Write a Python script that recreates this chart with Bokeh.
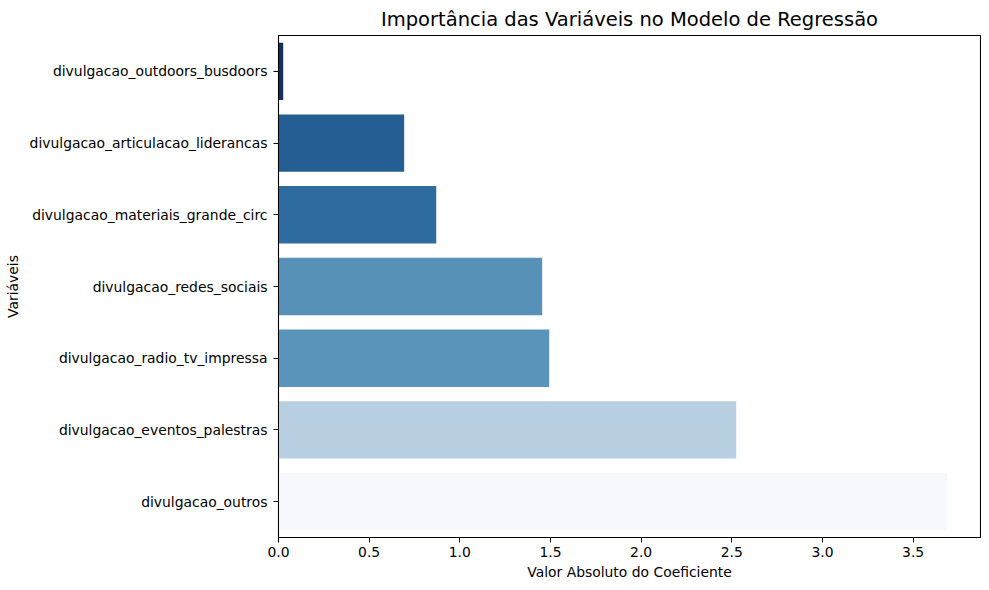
from bokeh.plotting import figure
from bokeh.models import ColumnDataSource, FactorRange, Range1d
from bokeh.embed import file_html
from bokeh.resources import INLINE

# Data (top-to-bottom order as shown)
variables = [
    "divulgacao_outdoors_busdoors",
    "divulgacao_articulacao_liderancas",
    "divulgacao_materiais_grande_circ",
    "divulgacao_redes_sociais",
    "divulgacao_radio_tv_impressa",
    "divulgacao_eventos_palestras",
    "divulgacao_outros",
]
abs_coef = [0.026, 0.693, 0.870, 1.454, 1.493, 2.524, 3.687]

bar_colors = ["#12305e", "#245e92", "#2e6b9e", "#5891b8", "#5b94ba", "#b8cfe2", "#f5f9fd"]

FONT = "DejaVu Sans"

source = ColumnDataSource(dict(var=variables, val=abs_coef, color=bar_colors))

p = figure(
    width=981, height=582,
    y_range=FactorRange(factors=list(reversed(variables)), range_padding=0),
    x_range=Range1d(0, max(abs_coef) * 1.05),
    output_backend="svg", toolbar_location=None,
    title="Importância das Variáveis no Modelo de Regressão",
    min_border_left=278, min_border_right=1, min_border_top=34, min_border_bottom=45,
)

p.hbar(y="var", right="val", left=0, height=0.8, fill_color="color", line_color=None, source=source)

p.title.align = "center"
p.title.text_font = FONT
p.title.text_font_size = "19.5px"
p.title.text_font_style = "normal"
p.title.text_color = "black"
p.title.offset = 0

p.xgrid.grid_line_color = None
p.ygrid.grid_line_color = None
p.outline_line_color = "black"
p.outline_line_width = 1.1
p.background_fill_color = "white"
p.border_fill_color = "white"

p.xaxis.axis_label = "Valor Absoluto do Coeficiente"
p.yaxis.axis_label = "Variáveis"
p.xaxis.ticker = [0, 0.5, 1.0, 1.5, 2.0, 2.5, 3.0, 3.5]
p.xaxis.major_label_overrides = {0: "0.0", 0.5: "0.5", 1.0: "1.0", 1.5: "1.5", 2.0: "2.0", 2.5: "2.5", 3.0: "3.0", 3.5: "3.5"}

for ax in (p.xaxis, p.yaxis):
    ax.axis_label_text_font = FONT
    ax.axis_label_text_font_size = "13.9px"
    ax.axis_label_text_font_style = "normal"
    ax.axis_label_text_color = "black"
    ax.major_label_text_font = FONT
    ax.major_label_text_font_size = "13.9px"
    ax.major_label_text_color = "black"
    ax.axis_line_color = "black"
    ax.major_tick_line_color = "black"
    ax.major_tick_out = 5
    ax.major_tick_in = 0
    ax.minor_tick_line_color = None

p.xaxis.major_label_standoff = 4
p.xaxis.axis_label_standoff = 4
p.yaxis.major_label_standoff = 6
p.yaxis.axis_label_standoff = 6

open("out.html", "w").write(file_html(p, INLINE))
